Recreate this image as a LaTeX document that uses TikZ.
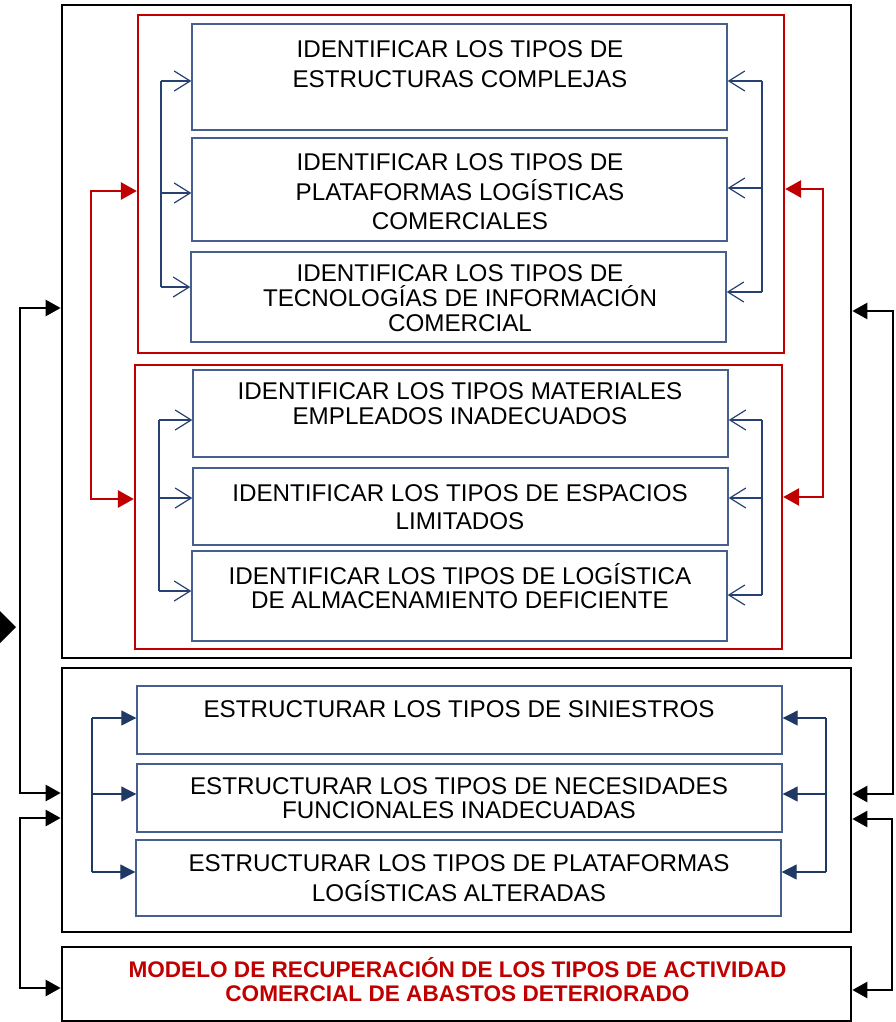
\documentclass[tikz,border=0pt]{standalone}
\usepackage{fontspec}
\setmainfont{Liberation Sans}
\usetikzlibrary{arrows.meta}
\definecolor{bbord}{RGB}{70,95,140}
\definecolor{bline}{RGB}{40,65,115}
\definecolor{bnavy}{RGB}{31,56,100}
\definecolor{dred}{RGB}{192,0,0}
\begin{document}
\begin{tikzpicture}[x=1pt,y=-1pt,
  outer/.style={draw=black, line width=2.7pt, inner sep=0, minimum width=789pt},
  redbox/.style={draw=dred, line width=2.3pt, inner sep=0},
  bluebox/.style={draw=bbord, line width=1.4pt, inner sep=0},
  txt/.style={font=\fontsize{24.2}{#1}\selectfont, align=center, inner sep=0},
  blk/.style={line width=2.6pt, line join=miter, {Triangle[length=15pt,width=16pt]}-{Triangle[length=15pt,width=16pt]}},
  rdarr/.style={color=dred, line width=2.8pt, line join=miter, {Triangle[length=16pt,width=17pt]}-{Triangle[length=16pt,width=17pt]}},
  thinb/.style={draw=bline, line width=1.2pt},
  vee/.style={draw=bline, line width=1.2pt, -{Straight Barb[length=16pt,width=20pt]}},
  navyarr/.style={color=bnavy, line width=1.2pt, -{Triangle[length=15pt,width=15pt]}},
  navyline/.style={draw=bnavy, line width=1.2pt}
]
\useasboundingbox (0,0) rectangle (895,1022);

% outer black boxes
\node[outer, minimum height=653pt] (O1) at (456.5,331.5) {};
\node[outer, minimum height=264pt] (O2) at (456.5,800) {};
\node[outer, minimum height=74pt] (O3) at (456.5,984) {};

% red group boxes
\node[redbox, minimum width=646pt, minimum height=338pt] (R1) at (461,184) {};
\node[redbox, minimum width=647pt, minimum height=284pt] (R2) at (458.5,507) {};

% blue boxes
\node[bluebox, minimum width=535pt, minimum height=106pt] (A) at (459.5,77) {};
\node[bluebox, minimum width=535pt, minimum height=103pt] (B) at (459.5,189.5) {};
\node[bluebox, minimum width=535pt, minimum height=90pt] (C) at (458.5,297) {};
\node[bluebox, minimum width=535pt, minimum height=87pt] (D) at (460.5,413.5) {};
\node[bluebox, minimum width=535pt, minimum height=77pt] (E) at (460.5,506.5) {};
\node[bluebox, minimum width=535pt, minimum height=90pt] (F) at (459.5,596) {};
\node[bluebox, minimum width=645pt, minimum height=68pt] (G) at (459.5,720) {};
\node[bluebox, minimum width=645pt, minimum height=68pt] (H) at (459.5,798) {};
\node[bluebox, minimum width=645pt, minimum height=76pt] (I) at (458.5,878) {};

% texts
\node[txt=30] (tA) at (460,64) {IDENTIFICAR LOS TIPOS DE\\ESTRUCTURAS COMPLEJAS};
\node[txt=29.5] (tB) at (460,192) {IDENTIFICAR LOS TIPOS DE\\PLATAFORMAS LOGÍSTICAS\\COMERCIALES};
\node[txt=25] (tC) at (460,298) {IDENTIFICAR LOS TIPOS DE\\TECNOLOGÍAS DE INFORMACIÓN\\COMERCIAL};
\node[txt=25] (tD) at (460,403.5) {IDENTIFICAR LOS TIPOS MATERIALES\\EMPLEADOS INADECUADOS};
\node[txt=28] (tE) at (460,507) {IDENTIFICAR LOS TIPOS DE ESPACIOS\\LIMITADOS};
\node[txt=24] (tF) at (460,586) {IDENTIFICAR LOS TIPOS DE LOGÍSTICA\\DE ALMACENAMIENTO DEFICIENTE};
\node[txt=24] (tG) at (459,709) {ESTRUCTURAR LOS TIPOS DE SINIESTROS};
\node[txt=24] (tH) at (459,798) {ESTRUCTURAR LOS TIPOS DE NECESIDADES\\FUNCIONALES INADECUADAS};
\node[txt=30] (tI) at (459,878) {ESTRUCTURAR LOS TIPOS DE PLATAFORMAS\\LOGÍSTICAS ALTERADAS};
\node[font=\fontsize{22.6}{24}\selectfont\bfseries, text=dred, align=center, inner sep=0] (tM) at (457.5,980) {MODELO DE RECUPERACIÓN DE LOS TIPOS DE ACTIVIDAD\\COMERCIAL DE ABASTOS DETERIORADO};

% blue buses, first red group
\coordinate (la) at (161,81); \coordinate (lb) at (161,193); \coordinate (lc) at (161,287);
\draw[thinb] (la) -- (lc);
\draw[vee] (la) -- (la -| A.west);
\draw[vee] (lb) -- (lb -| B.west);
\draw[vee] (lc) -- (lc -| C.west);
\coordinate (ra) at (762,81); \coordinate (rb) at (762,188); \coordinate (rc) at (762,292);
\draw[thinb] (ra) -- (rc);
\draw[vee] (ra) -- (ra -| A.east);
\draw[vee] (rb) -- (rb -| B.east);
\draw[vee] (rc) -- (rc -| C.east);

% blue buses, second red group
\coordinate (ld) at (159,420); \coordinate (le) at (159,498); \coordinate (lf) at (159,591);
\draw[thinb] (ld) -- (lf);
\draw[vee] (ld) -- (ld -| D.west);
\draw[vee] (le) -- (le -| E.west);
\draw[vee] (lf) -- (lf -| F.west);
\coordinate (rd) at (762,420); \coordinate (re) at (762,498); \coordinate (rf) at (762,595);
\draw[thinb] (rd) -- (rf);
\draw[vee] (rd) -- (rd -| D.east);
\draw[vee] (re) -- (re -| E.east);
\draw[vee] (rf) -- (rf -| F.east);

% navy buses, second black box
\coordinate (lg) at (92,718); \coordinate (lh) at (92,794); \coordinate (li) at (92,872);
\draw[navyline] (lg) -- (li);
\draw[navyarr] (lg) -- (lg -| G.west);
\draw[navyarr] (lh) -- (lh -| H.west);
\draw[navyarr] (li) -- (li -| I.west);
\coordinate (rg) at (826,718); \coordinate (rh) at (826,794); \coordinate (ri) at (826,872);
\draw[navyline] (rg) -- (ri);
\draw[navyarr] (rg) -- (rg -| G.east);
\draw[navyarr] (rh) -- (rh -| H.east);
\draw[navyarr] (ri) -- (ri -| I.east);

% red connectors between groups
\coordinate (q1) at (91,191); \coordinate (q2) at (91,499);
\draw[rdarr] (q1 -| R1.west) -- (q1) -- (q2) -- (q2 -| R2.west);
\coordinate (p1) at (823,189); \coordinate (p2) at (823,497);
\draw[rdarr] (p1 -| R1.east) -- (p1) -- (p2) -- (p2 -| R2.east);

% black connectors
\coordinate (k1) at (20,308); \coordinate (k2) at (20,793);
\draw[blk] (k1 -| O1.west) -- (k1) -- (k2) -- (k2 -| O2.west);
\coordinate (k3) at (20,818); \coordinate (k4) at (20,988);
\draw[blk] (k3 -| O2.west) -- (k3) -- (k4) -- (k4 -| O3.west);
\coordinate (m1) at (893,311); \coordinate (m2) at (893,794);
\draw[blk] (m1 -| O1.east) -- (m1) -- (m2) -- (m2 -| O2.east);
\coordinate (m3) at (892,819); \coordinate (m4) at (892,990);
\draw[blk] (m3 -| O2.east) -- (m3) -- (m4) -- (m4 -| O3.east);

% partial diamond at left edge
\fill (-16,627) -- (0,611) -- (16,627) -- (0,643) -- cycle;
\end{tikzpicture}
\end{document}
